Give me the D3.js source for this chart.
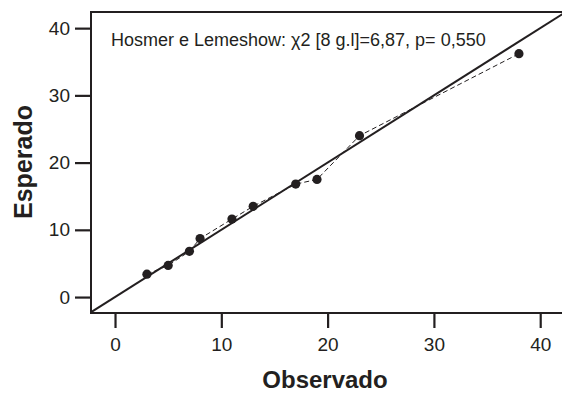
<!DOCTYPE html>
<html>
<head>
<meta charset="utf-8">
<script src="https://cdn.jsdelivr.net/npm/d3@7"></script>
<style>
  html, body { margin: 0; padding: 0; background: #fff; }
  svg text { font-family: "Liberation Sans", Arial, Helvetica, sans-serif; fill: #231f20; }
</style>
</head>
<body>
<svg id="chart" width="562" height="394"></svg>
<script>
// Observed vs expected counts per decile of risk
const observed = [3, 5, 7, 8, 11, 13, 17, 19, 23, 38];
const expected = [3.4, 4.7, 6.8, 8.7, 11.6, 13.5, 16.8, 17.5, 24.0, 36.2];
const xTicks = [0, 10, 20, 30, 40];
const yTicks = [0, 10, 20, 30, 40];
const xDomain = [-2.26, 42.05];
const yDomain = [-2.37, 42.4];
const annotation = "Hosmer e Lemeshow: \u03c72 [8 g.l]=6,87, p= 0,550";
const xTitle = "Observado";
const yTitle = "Esperado";

const ink = "#231f20";
const svg = d3.select("#chart");
const m = { left: 91, right: 562, top: 12, bottom: 313 };

const x = d3.scaleLinear().domain(xDomain).range([m.left, m.right]);
const y = d3.scaleLinear().domain(yDomain).range([m.bottom, m.top]);

// axes
const xAxis = svg.append("g").attr("transform", `translate(0,${m.bottom})`)
  .call(d3.axisBottom(x).tickValues(xTicks).tickSize(15).tickPadding(10).tickSizeOuter(0));
const yAxis = svg.append("g").attr("transform", `translate(${m.left},0)`)
  .call(d3.axisLeft(y).tickValues(yTicks).tickSize(16).tickPadding(5).tickSizeOuter(0));
[xAxis, yAxis].forEach(g => {
  g.select(".domain").remove();
  g.selectAll(".tick line").attr("stroke", ink).attr("stroke-width", 2.2);
  g.selectAll(".tick text").attr("font-size", 19).attr("fill", ink)
    .style("font-family", '"Liberation Sans", Arial, sans-serif');
});

// frame: left, bottom and top edges
svg.append("path")
  .attr("d", `M${m.right},${m.top}H${m.left}V${m.bottom}H${m.right}`)
  .attr("fill", "none").attr("stroke", ink).attr("stroke-width", 2);

// clip region for plot contents
svg.append("clipPath").attr("id", "plot")
  .append("rect").attr("x", m.left).attr("y", m.top)
  .attr("width", m.right - m.left).attr("height", m.bottom - m.top);
const plot = svg.append("g").attr("clip-path", "url(#plot)");

// identity reference line
plot.append("line")
  .attr("x1", x(-5)).attr("y1", y(-5)).attr("x2", x(50)).attr("y2", y(50))
  .attr("stroke", ink).attr("stroke-width", 2);

const pts = observed.map((o, i) => ({ o, e: expected[i] }));

// dashed connection of the groups
plot.append("path")
  .datum(pts)
  .attr("d", d3.line().x(d => x(d.o)).y(d => y(d.e)))
  .attr("fill", "none").attr("stroke", ink).attr("stroke-width", 1)
  .attr("stroke-dasharray", "5,3");

plot.selectAll("circle").data(pts).join("circle")
  .attr("cx", d => x(d.o)).attr("cy", d => y(d.e)).attr("r", 4.6)
  .attr("fill", ink);

// annotation
svg.append("text").attr("x", 111).attr("y", 46).attr("font-size", 18)
  .text(annotation);

// axis titles
svg.append("text").attr("x", 325).attr("y", 388)
  .attr("text-anchor", "middle").attr("font-size", 24).attr("font-weight", "bold")
  .text(xTitle);
svg.append("text").attr("transform", `translate(32,162) rotate(-90)`)
  .attr("text-anchor", "middle").attr("font-size", 25).attr("font-weight", "bold")
  .text(yTitle);
</script>
</body>
</html>
